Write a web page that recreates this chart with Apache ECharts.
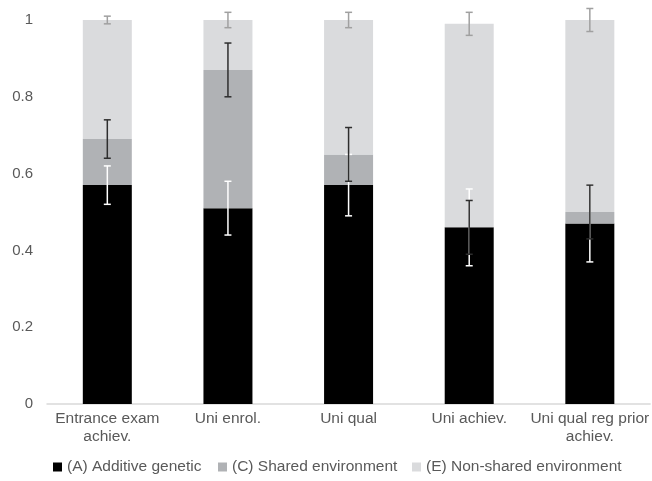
<!DOCTYPE html>
<html>
<head>
<meta charset="utf-8">
<script src="https://cdn.jsdelivr.net/npm/echarts@6/dist/echarts.min.js"></script>
<style>
  html, body { margin: 0; padding: 0; background: #ffffff; }
  #chart { width: 652px; height: 481px; }
</style>
</head>
<body>
<div id="chart"></div>
<script>
// Variance components (proportions) per outcome
const categories = [
  'Entrance exam\nachiev.',
  'Uni enrol.',
  'Uni qual',
  'Uni achiev.',
  'Uni qual reg prior\nachiev.'
];
const seriesNames = ['(A) Additive genetic', '(C) Shared environment', '(E) Non-shared environment'];

const additive = [0.57, 0.51, 0.57, 0.46, 0.47];
const shared = [0.12, 0.36, 0.08, 0.00, 0.03];
const nonShared = [0.31, 0.13, 0.35, 0.53, 0.50];

// Half-widths of the confidence intervals
const additiveErr = [0.05, 0.07, 0.08, 0.10, 0.10];
const sharedErr = [0.05, 0.07, 0.07, 0.07, 0.07];
const nonSharedErr = [0.01, 0.02, 0.02, 0.03, 0.03];

const yTicks = { min: 0, max: 1, interval: 0.2 };

const barColors = ['#000000', '#b0b2b5', '#dadbdd'];
const errColors = ['#ffffff', '#2e2e2e', '#a0a0a0'];
const textColor = '#595959';
const fontFamily = 'Liberation Sans, Arial, sans-serif';
const fontSize = 15.5;

// Error bars sit on the top edge of each stacked segment
function errorData(values, errs, below) {
  return values.map((v, i) => {
    let top = v;
    below.forEach(arr => { top += arr[i]; });
    return [i, top, errs[i]];
  });
}

function errorSeries(name, data, color) {
  return {
    name: name + ' CI',
    type: 'custom',
    z: 5,
    silent: true,
    data: data,
    renderItem: function (params, api) {
      const x = api.value(0);
      const c = api.value(1);
      const e = api.value(2);
      const hi = api.coord([x, c + e]);
      const lo = api.coord([x, c - e]);
      const cap = 3.5;
      const style = { stroke: color, lineWidth: 1.5 };
      return {
        type: 'group',
        children: [
          { type: 'line', shape: { x1: hi[0], y1: hi[1], x2: lo[0], y2: lo[1] }, style: style },
          { type: 'line', shape: { x1: hi[0] - cap, y1: hi[1], x2: hi[0] + cap, y2: hi[1] }, style: style },
          { type: 'line', shape: { x1: lo[0] - cap, y1: lo[1], x2: lo[0] + cap, y2: lo[1] }, style: style }
        ]
      };
    }
  };
}

const chart = echarts.init(document.getElementById('chart'), null, { renderer: 'canvas' });

const legendBase = {
  top: 459,
  padding: 0,
  itemWidth: 9,
  itemHeight: 9,
  icon: 'rect',
  textStyle: { color: textColor, fontSize: fontSize, fontFamily: fontFamily }
};

chart.setOption({
  animation: false,
  backgroundColor: '#ffffff',
  textStyle: { fontFamily: fontFamily },
  grid: { left: 47, top: 20, width: 606, height: 384, containLabel: false },
  legend: [
    Object.assign({ left: 53, data: [seriesNames[0]] }, legendBase),
    Object.assign({ left: 218, data: [seriesNames[1]] }, legendBase),
    Object.assign({ left: 412, data: [seriesNames[2]] }, legendBase)
  ],
  xAxis: {
    type: 'category',
    data: categories,
    axisLine: { lineStyle: { color: '#d9d9d9', width: 1.5 } },
    axisTick: { show: false },
    axisLabel: {
      interval: 0,
      margin: 6,
      color: textColor,
      fontSize: fontSize,
      lineHeight: 18,
      fontFamily: fontFamily
    }
  },
  yAxis: {
    type: 'value',
    min: yTicks.min,
    max: yTicks.max,
    interval: yTicks.interval,
    axisLine: { show: false },
    axisTick: { show: false },
    splitLine: { show: false },
    axisLabel: { margin: 14, color: textColor, fontSize: 15, fontFamily: fontFamily }
  },
  series: [
    { name: seriesNames[0], type: 'bar', stack: 'ace', barWidth: 49, data: additive, itemStyle: { color: barColors[0] } },
    { name: seriesNames[1], type: 'bar', stack: 'ace', barWidth: 49, data: shared, itemStyle: { color: barColors[1] } },
    { name: seriesNames[2], type: 'bar', stack: 'ace', barWidth: 49, data: nonShared, itemStyle: { color: barColors[2] } },
    errorSeries(seriesNames[0], errorData(additive, additiveErr, []), errColors[0]),
    errorSeries(seriesNames[1], errorData(shared, sharedErr, [additive]), errColors[1]),
    errorSeries(seriesNames[2], errorData(nonShared, nonSharedErr, [additive, shared]), errColors[2])
  ]
});
</script>
</body>
</html>
